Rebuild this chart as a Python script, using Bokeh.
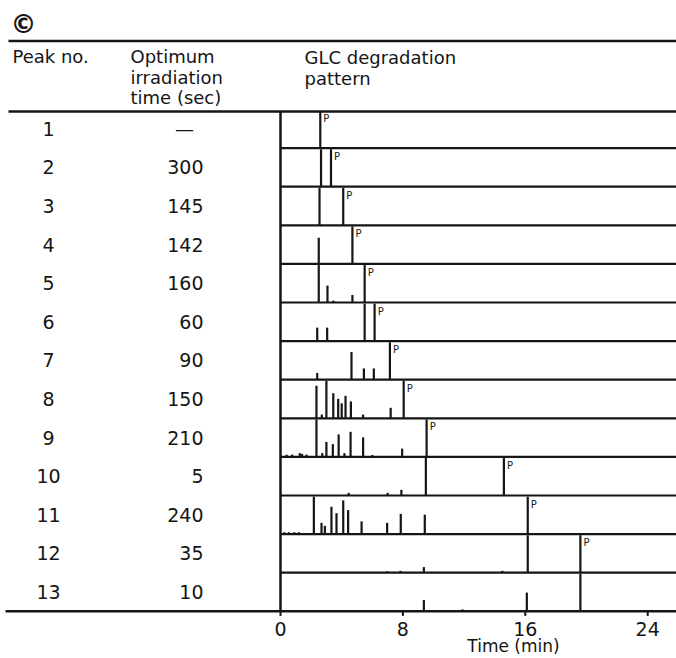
from bokeh.plotting import figure
from bokeh.models import Range1d, ColumnDataSource
from bokeh.core.properties import value
from bokeh.embed import file_html
from bokeh.resources import INLINE

# ---------------- data ----------------
peak_no = ["1", "2", "3", "4", "5", "6", "7", "8", "9", "10", "11", "12", "13"]
irradiation = ["—", "300", "145", "142", "160", "60", "90", "150", "210", "5", "240", "35", "10"]

# GLC degradation pattern: retention times (min) and relative peak heights per row
pattern_times = [
    [2.6],
    [2.65, 3.3],
    [2.55, 4.1],
    [2.5, 4.7],
    [2.5, 3.07, 3.46, 4.7, 5.5],
    [2.4, 3.05, 5.5, 6.15],
    [2.4, 4.64, 5.45, 6.1, 7.15],
    [2.35, 2.7, 3.0, 3.45, 3.77, 4.0, 4.25, 4.6, 5.4, 7.2, 8.05],
    [0.4, 0.76, 1.26, 1.41, 1.7, 2.35, 2.73, 3.0, 3.42, 3.8, 4.18, 4.58, 5.4, 6.0, 7.95, 9.55],
    [4.46, 7.0, 7.9, 9.5, 14.6],
    [0.25, 0.55, 0.9, 1.2, 2.18, 2.68, 2.9, 3.33, 3.66, 4.1, 4.42, 5.3, 6.97, 7.86, 9.43, 16.16],
    [6.97, 7.84, 9.37, 14.5, 16.16, 19.6],
    [9.37, 11.9, 16.1, 19.6],
]
pattern_heights = [
    [1.0],
    [1.0, 1.0],
    [1.0, 1.0],
    [0.7, 1.0],
    [1.0, 0.45, 0.05, 0.2, 1.0],
    [0.36, 0.36, 1.0, 1.0],
    [0.18, 0.74, 0.3, 0.3, 1.0],
    [0.87, 0.1, 1.0, 0.67, 0.52, 0.4, 0.6, 0.45, 0.1, 0.28, 1.0],
    [0.06, 0.06, 0.1, 0.08, 0.06, 1.0, 0.1, 0.4, 0.34, 0.6, 0.1, 0.67, 0.52, 0.05, 0.22, 1.0],
    [0.07, 0.07, 0.15, 1.0, 1.0],
    [0.05, 0.05, 0.05, 0.05, 1.0, 0.3, 0.22, 0.73, 0.56, 0.9, 0.64, 0.34, 0.3, 0.54, 0.52, 1.0],
    [0.04, 0.05, 0.15, 0.05, 1.0, 1.0],
    [0.3, 0.05, 0.5, 1.0],
]
# time of the product peak marked "P" in each row (None = not marked)
p_peak_time = [2.6, 3.3, 4.1, 4.7, 5.5, 6.15, 7.15, 8.05, 9.55, 14.6, 16.16, 19.6, None]

tick_values = [0, 8, 16, 24]
tick_labels = ["0", "8", "16", "24"]
x_title = "Time (min)"

# ---------------- layout helpers ----------------
W, H = 676, 658
X0_PX, PX_PER_MIN = 280.0, 15.3
Y0_PX, PX_PER_ROW = 109.0, 38.6


def tx(px):
    return (px - X0_PX) / PX_PER_MIN


def ty(py):
    return (py - Y0_PX) / PX_PER_ROW


n_rows = len(peak_no)
x_left, x_right = tx(0), tx(W)

p = figure(width=W, height=H, output_backend="svg", toolbar_location=None,
           x_range=Range1d(x_left, x_right), y_range=Range1d(ty(H), ty(0)),
           min_border=0, min_border_left=0, min_border_right=0,
           min_border_top=0, min_border_bottom=0)
p.axis.visible = False
p.grid.visible = False
p.outline_line_color = None
p.background_fill_color = "white"
p.border_fill_color = "white"

INK = "#151515"
FONT = value("DejaVu Sans")

# ---------------- frame lines ----------------
# top rule and header rule across whole width
p.segment(x0=[tx(8), tx(8)], y0=[ty(40.5), ty(111)], x1=[x_right, x_right], y1=[ty(40.5), ty(111)],
          line_color=INK, line_width=2.5)
# bottom rule (time axis)
p.segment(x0=[tx(5)], y0=[n_rows], x1=[x_right], y1=[n_rows], line_color=INK, line_width=2.5)
# row boundaries in the chart area
rows_b = list(range(1, n_rows))
p.segment(x0=[0] * len(rows_b), y0=rows_b, x1=[x_right] * len(rows_b), y1=rows_b,
          line_color=INK, line_width=2.2)
# left edge of chart
p.segment(x0=[0], y0=[ty(111)], x1=[0], y1=[n_rows], line_color=INK, line_width=2.5)

# ---------------- spikes ----------------
sx, sy0, sy1 = [], [], []
for r, (ts, hs) in enumerate(zip(pattern_times, pattern_heights)):
    base = r + 1
    for t, h in zip(ts, hs):
        sx.append(t)
        sy0.append(base)
        sy1.append(base - 0.97 * h)
p.segment(x0=sx, y0=sy0, x1=sx, y1=sy1, line_color=INK, line_width=2.2)

# P labels
px_, py_ = [], []
for r, t in enumerate(p_peak_time):
    if t is not None:
        px_.append(t + 0.2)
        py_.append(r + 0.08)
p.text(x=px_, y=py_, text=["P"] * len(px_), text_font=FONT, text_font_size=value("10px"),
       text_color=INK, text_align="left", text_baseline="top")

# ---------------- table columns ----------------
row_centers = [i + 0.5 for i in range(n_rows)]
p.text(x=[tx(48)] * n_rows, y=row_centers, text=peak_no, text_font=FONT,
       text_font_size=value("19px"), text_color=INK, text_align="center", text_baseline="middle")
val_src = ColumnDataSource(dict(
    x=[tx(184) if v == "—" else tx(203) for v in irradiation],
    y=row_centers,
    t=irradiation,
    a=["center" if v == "—" else "right" for v in irradiation],
))
p.text(x="x", y="y", text="t", source=val_src, text_font=FONT, text_font_size=value("19px"),
       text_color=INK, text_align="a", text_baseline="middle")

# ---------------- header ----------------
p.text(x=[tx(10)], y=[ty(23)], text=["©"], text_font=FONT, text_font_size=value("26px"),
       text_font_style="bold", text_color=INK, text_align="left", text_baseline="middle")
p.text(x=[tx(12)], y=[ty(56)], text=["Peak no."], text_font=FONT, text_font_size=value("18px"),
       text_color=INK, text_align="left", text_baseline="middle")
p.text(x=[tx(130)] * 3, y=[ty(56), ty(76.5), ty(97)], text=["Optimum", "irradiation", "time (sec)"],
       text_font=FONT, text_font_size=value("18px"), text_color=INK,
       text_align="left", text_baseline="middle")
p.text(x=[tx(304)] * 2, y=[ty(57), ty(78)], text=["GLC degradation", "pattern"],
       text_font=FONT, text_font_size=value("18px"), text_color=INK,
       text_align="left", text_baseline="middle")

# ---------------- time axis ----------------
nt = len(tick_values)
p.segment(x0=tick_values, y0=[n_rows] * nt, x1=tick_values, y1=[n_rows + 0.12] * nt,
          line_color=INK, line_width=2)
p.text(x=tick_values, y=[ty(628)] * nt, text=tick_labels, text_font=FONT,
       text_font_size=value("19px"), text_color=INK, text_align="center", text_baseline="middle")
p.text(x=[tx(513)], y=[ty(645)], text=[x_title], text_font=FONT, text_font_size=value("17px"),
       text_color=INK, text_align="center", text_baseline="middle")

open("out.html", "w").write(file_html(p, INLINE))
